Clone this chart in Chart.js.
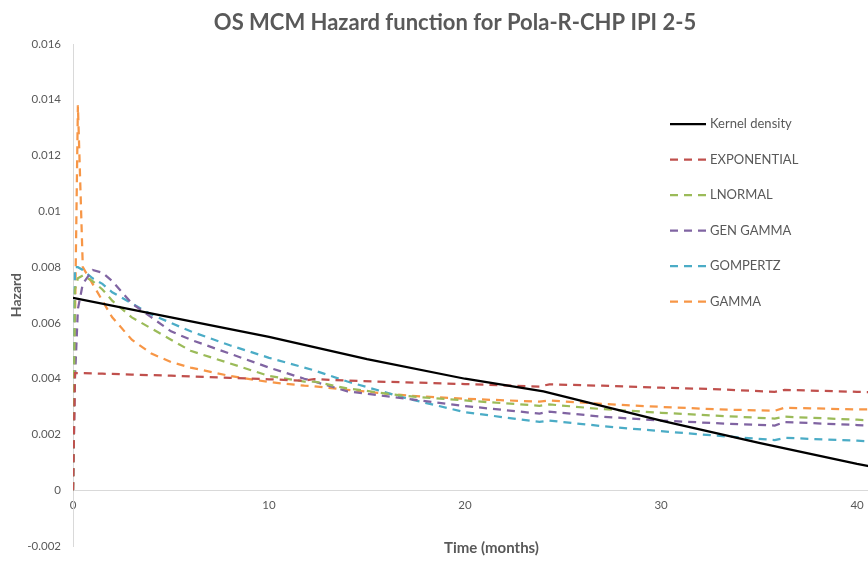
<!DOCTYPE html>
<html>
<head>
<meta charset="utf-8">
<title>OS MCM Hazard function for Pola-R-CHP IPI 2-5</title>
<script src="https://cdn.jsdelivr.net/npm/chart.js@4.4.1/dist/chart.umd.min.js"></script>
<style>
  html, body { margin: 0; padding: 0; background: #fff; overflow: hidden; }
  #chart { display: block; }
</style>
</head>
<body>
<canvas id="chart" width="910" height="565"></canvas>
<script>
// kernel density estimate (solid black)
const kernelMonths = [0, 5, 10, 15, 20, 24, 30, 35, 40, 40.6];
const kernelHazard = [0.0069, 0.0062, 0.0055, 0.0047, 0.0040, 0.00355, 0.0025, 0.0017, 0.00095, 0.00087];

// parametric fits, all read on the same time grid
const fitMonths = [0, 0.1, 0.25, 0.5, 1, 1.5, 2, 3, 4, 5, 6, 8, 10, 11.8, 12.3, 14, 17, 20, 23.8, 24.3, 27, 30, 33, 35.8, 36.3, 40, 40.6];
const exponential = [0, 0.0042, 0.0042, 0.0042, 0.00419, 0.00418, 0.00417, 0.00415, 0.00413, 0.00411, 0.00408, 0.00403, 0.00398, 0.00393, 0.00399, 0.00393, 0.00387, 0.00381, 0.00372, 0.0038, 0.00375, 0.00368, 0.00362, 0.00353, 0.0036, 0.00353, 0.00352];
const lnormal = [0, 0.0072, 0.0076, 0.0077, 0.0075, 0.0072, 0.0068, 0.0062, 0.0058, 0.0054, 0.0050, 0.00455, 0.0041, 0.0039, 0.0039, 0.00365, 0.00338, 0.00322, 0.00303, 0.00308, 0.00291, 0.00278, 0.00267, 0.00257, 0.00264, 0.00253, 0.00251];
const genGamma = [0, 0.004, 0.0065, 0.0074, 0.0079, 0.0078, 0.0075, 0.0067, 0.0062, 0.0057, 0.0054, 0.0049, 0.0044, 0.0040, 0.0039, 0.00355, 0.00328, 0.00302, 0.00275, 0.00282, 0.00264, 0.0025, 0.0024, 0.00232, 0.00245, 0.00234, 0.00232];
const gompertz = [0, 0.0080, 0.0080, 0.0079, 0.0076, 0.0074, 0.0071, 0.0067, 0.0063, 0.0060, 0.0057, 0.0052, 0.00475, 0.0044, 0.0043, 0.0039, 0.0033, 0.0028, 0.00245, 0.0025, 0.0023, 0.00212, 0.00195, 0.0018, 0.00188, 0.00178, 0.00176];
const gamma = [0, 0.0060, 0.0138, 0.0080, 0.0074, 0.0068, 0.0062, 0.0054, 0.0049, 0.0046, 0.0044, 0.0041, 0.00388, 0.00375, 0.00373, 0.0036, 0.0034, 0.00328, 0.00318, 0.00322, 0.0031, 0.00299, 0.0029, 0.00285, 0.00296, 0.0029, 0.0029];

const seriesLabels = ['Kernel density', 'EXPONENTIAL', 'LNORMAL', 'GEN GAMMA', 'GOMPERTZ', 'GAMMA'];
const seriesColors = ['#000000', '#C0504D', '#9BBB59', '#8064A2', '#4BACC6', '#F79646'];

const toPoints = (xs, ys) => xs.map((x, i) => ({ x: x, y: ys[i] }));
const fits = [exponential, lnormal, genGamma, gompertz, gamma];

const datasets = [
  {
    label: seriesLabels[0],
    data: toPoints(kernelMonths, kernelHazard),
    borderColor: seriesColors[0],
    borderWidth: 2.25,
  },
].concat(fits.map((ys, i) => ({
  label: seriesLabels[i + 1],
  data: toPoints(fitMonths, ys),
  borderColor: seriesColors[i + 1],
  borderWidth: 2.25,
  borderDash: [8, 6],
})));

// legend sits inside the plot on the right, like the Excel original
const sideLegend = {
  id: 'sideLegend',
  afterDatasetsDraw(chart, args, opts) {
    const ctx = chart.ctx;
    ctx.save();
    ctx.font = opts.font;
    ctx.textBaseline = 'middle';
    chart.data.datasets.forEach((ds, i) => {
      const y = opts.top + i * opts.rowHeight;
      ctx.beginPath();
      ctx.setLineDash(ds.borderDash || []);
      ctx.strokeStyle = ds.borderColor;
      ctx.lineWidth = ds.borderWidth;
      ctx.moveTo(opts.left, y);
      ctx.lineTo(opts.left + opts.lineLength, y);
      ctx.stroke();
      ctx.setLineDash([]);
      ctx.fillStyle = opts.color;
      ctx.fillText(ds.label, opts.left + opts.lineLength + opts.gap, y);
    });
    ctx.restore();
  }
};

const grey = '#595959';
const fontFamily = 'Lato, "Open Sans", sans-serif';
Chart.defaults.font.family = fontFamily;
Chart.defaults.color = grey;

new Chart(document.getElementById('chart'), {
  type: 'line',
  data: { datasets: datasets },
  options: {
    responsive: false,
    animation: false,
    elements: { point: { radius: 0 }, line: { tension: 0 } },
    layout: { padding: { top: 0, right: 0, bottom: 10, left: 0 } },
    plugins: {
      legend: { display: false },
      tooltip: { enabled: false },
      title: {
        display: true,
        text: 'OS MCM Hazard function for Pola-R-CHP IPI 2-5',
        color: grey,
        font: { size: 22, weight: 'bold' },
        padding: { top: 10, bottom: 7.6 },
      },
      sideLegend: {
        left: 670, top: 124, rowHeight: 35.5, lineLength: 36, gap: 4,
        font: '13px ' + fontFamily, color: grey,
      },
    },
    scales: {
      x: {
        type: 'linear',
        position: { y: 0 },
        min: 0,
        max: 42.7,
        grid: { display: false, drawTicks: false },
        border: { display: true, color: '#d9d9d9', width: 1 },
        ticks: { stepSize: 10, includeBounds: false, padding: 8, font: { size: 11.5 }, color: grey },
        title: { display: true, text: 'Time (months)', color: grey, font: { size: 15, weight: 'bold' }, padding: { top: 19, bottom: 0 } },
      },
      y: {
        min: -0.002,
        max: 0.016,
        grid: { display: false, drawTicks: false },
        border: { display: true, color: '#d9d9d9', width: 1 },
        ticks: {
          stepSize: 0.002,
          padding: 12,
          font: { size: 11.5 },
          color: grey,
          callback: (v) => String(Number(v.toFixed(3))),
        },
        title: { display: true, text: 'Hazard', color: grey, font: { size: 14, weight: 'bold' }, padding: { top: 8, bottom: 0 } },
        afterFit(scale) { scale.width = 73; },
      },
    },
  },
  plugins: [sideLegend],
});
</script>
</body>
</html>
